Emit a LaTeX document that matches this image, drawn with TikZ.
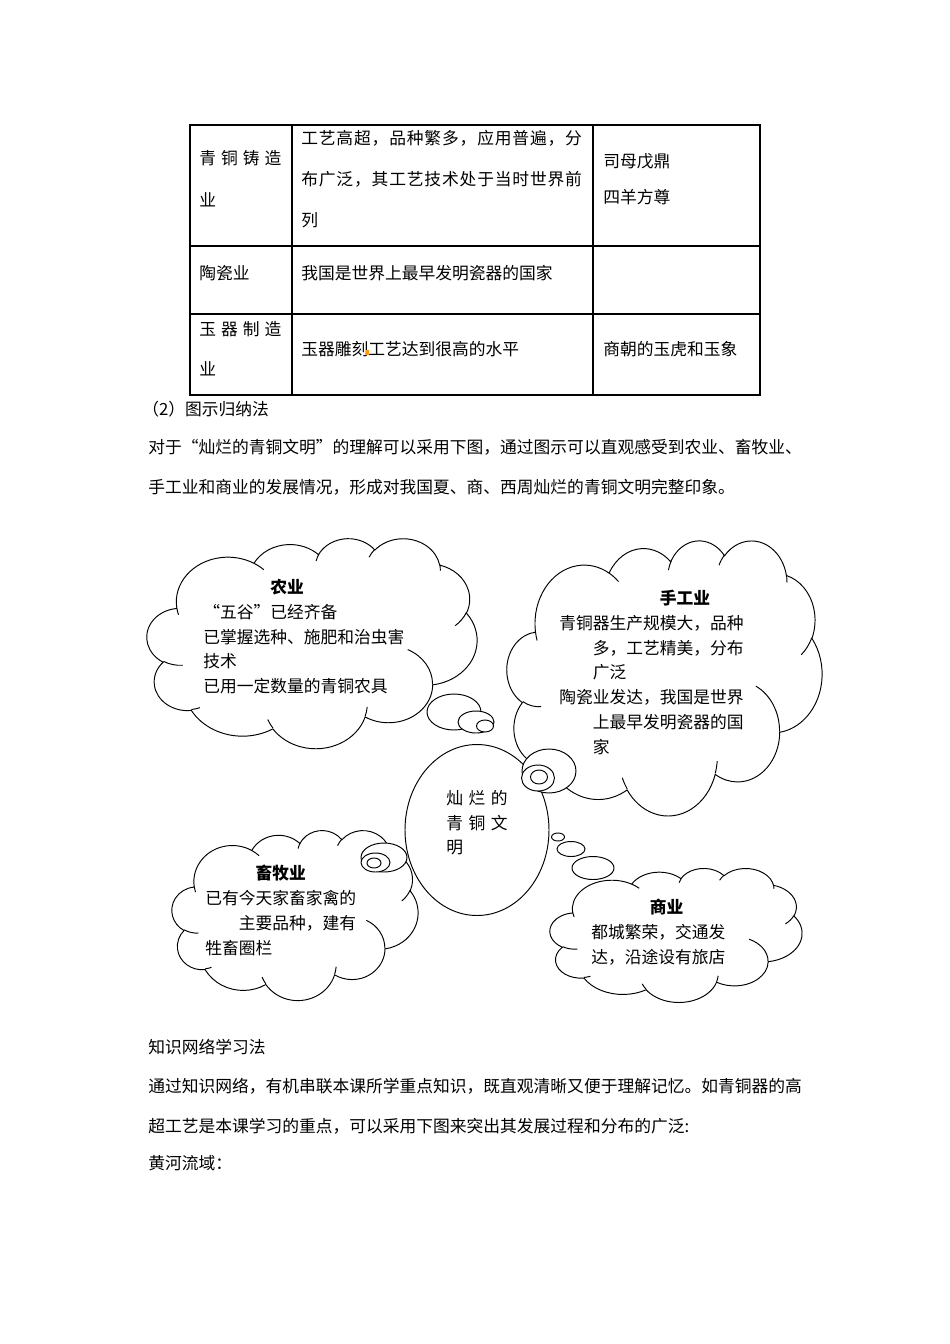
\documentclass[tikz,border=0pt]{standalone}
\usepackage{fontspec}
\setmainfont{Noto Sans CJK SC}
\newcommand\ooarc[4]{arc[x radius=#1,y radius=#2,
    start angle={atan2(#1*sin(#3),#2*cos(#3))},
    delta angle={mod(atan2(#1*sin(#3+#4),#2*cos(#3+#4))-atan2(#1*sin(#3),#2*cos(#3))+720,360)}]}
\begin{document}
\begin{tikzpicture}[x=0.6266pt,y=-0.6266pt,
    every node/.style={inner sep=0pt,anchor=north west,align=left,font=\fontsize{10.5}{25}\selectfont},
    puffed/.style={font=\fontsize{10.5}{15.5}\selectfont},
    rim/.style={line width=0.6pt,fill=white}]
    \useasboundingbox (0,0) rectangle (950,1344);
    \draw[line width=1pt] (190,125) rectangle (760,395);
    \draw[line width=1pt] (292,125) -- (292,395) (593,125) -- (593,395)
        (190,246) -- (760,246) (190,314) -- (760,314);
    \node[font=\fontsize{10.5}{26.3}\selectfont] (bronzename) at (199,150)
        {\hbox to 51.4pt{青\hfil 铜\hfil 铸\hfil 造}\\业};
    \node[font=\fontsize{10.5}{25.7}\selectfont\addfontfeature{LetterSpace=5}] (bronzetext) at (301,130)
        {工艺高超，品种繁多，应用普遍，分\\布广泛，其工艺技术处于当时世界前\\列};
    \node[font=\fontsize{10.5}{22.6}\selectfont] (bronzeitems) at (603,153) {司母戊鼎\\四羊方尊};
    \node (potname) at (199,265) {陶瓷业};
    \node (pottext) at (301,265) {我国是世界上最早发明瓷器的国家};
    \node (jadename) at (199,321) {\hbox to 51.4pt{玉\hfil 器\hfil 制\hfil 造}\\业};
    \node (jadetext) at (301,341) {玉器雕刻工艺达到很高的水平};
    \node (jadeitems) at (603,341) {商朝的玉虎和玉象};
    \fill[orange!80!yellow] (366,350) rectangle (368.5,355);
    \node (method) at (142,401) {（2）图示归纳法};
    \node (intro) at (148,439)
        {对于“灿烂的青铜文明”的理解可以采用下图，通过图示可以直观感受到农业、畜牧业、\\
         手工业和商业的发展情况，形成对我国夏、商、西周灿烂的青铜文明完整印象。};
    \foreach \cx/\cy/\cw/\ch in {147/538/330/210,507/540/315/275,172/830/246/170,550/868/252/134} {
        \begin{scope}[shift={(\cx,\cy)},x={(\cw/432,0)},y={(0,\ch/432)}]
            \draw[rim] (39.00,143.70) \ooarc{67.53}{91.90}{-190.4875}{123.7805}
                \ooarc{53.33}{72.67}{-144.1024}{89.9452} \ooarc{43.65}{59.45}{-145.8079}{99.7230}
                \ooarc{48.57}{65.95}{-130.9861}{117.2417} \ooarc{53.33}{72.73}{-78.7089}{109.0269}
                \ooarc{67.75}{92.20}{-46.2673}{130.2690} \ooarc{57.85}{78.67}{0.6250}{114.0333}
                \ooarc{67.52}{92.15}{22.4516}{115.1726} \ooarc{77.20}{105.43}{66.2426}{75.7110}
                \ooarc{43.60}{59.18}{-274.9421}{146.7356} \ooarc{43.45}{59.45}{-246.8285}{152.5189} -- cycle;
            \draw[line width=0.6pt]
                (46.93,261.77) \ooarc{43.45}{59.45}{86.7420}{26.4295}
                (69.28,348.99) \ooarc{43.60}{59.18}{73.6105}{11.4475}
                (164.78,390.90) \ooarc{67.52}{92.15}{137.6242}{14.0811}
                (288.27,347.51) \ooarc{67.52}{92.15}{6.4533}{15.9984}
                (341.29,229.54) \ooarc{57.85}{78.67}{-70.2924}{70.9174}
                (417.98,153.54) \ooarc{53.33}{72.73}{30.3180}{27.7515}
                (383.24,54.26) \ooarc{48.57}{65.95}{-13.7443}{14.8589}
                (290.78,39.52) \ooarc{48.57}{65.95}{-149.1815}{18.1954}
                (221.41,47.20) \ooarc{43.65}{59.45}{-163.4943}{17.6864}
                (140.00,51.92) \ooarc{67.53}{91.90}{-66.7070}{12.3194}
                (41.27,157.89) \ooarc{67.53}{91.90}{157.6544}{11.8582};
        \end{scope}
    }
    \draw[rim] (477,830) ellipse [x radius=72,y radius=85.5];
    \draw[rim] (454,712) ellipse [x radius=27,y radius=18];
    \draw[rim] (476,722) ellipse [x radius=18,y radius=11];
    \draw[rim] (485,726) ellipse [x radius=8.5,y radius=6];
    \draw[rim] (549,771) ellipse [x radius=27,y radius=22];
    \draw[rim] (538,778) ellipse [x radius=16.5,y radius=13];
    \draw[rim] (539,777) ellipse [x radius=8.5,y radius=7];
    \draw[rim] (384,857.5) ellipse [x radius=23,y radius=14.5];
    \draw[rim] (375.5,862.5) ellipse [x radius=14.5,y radius=9.5];
    \draw[rim] (374,863) ellipse [x radius=7,y radius=5];
    \draw[rim] (558,837) ellipse [x radius=6.5,y radius=4];
    \draw[rim] (571,849) ellipse [x radius=14,y radius=7.5];
    \draw[rim] (593,868) ellipse [x radius=21,y radius=11.5];
    \node[puffed] (farming) at (203,579)
        {\hspace*{4em}\textbf{农业}\\“五谷”已经齐备\\已掌握选种、施肥和治虫害\\技术\\已用一定数量的青铜农具};
    \node[puffed] (crafts) at (559,590)
        {\hspace*{6em}\textbf{手工业}\\青铜器生产规模大，品种\\\hspace*{2em}多，工艺精美，分布\\\hspace*{2em}广泛\\
         陶瓷业发达，我国是世界\\\hspace*{2em}上最早发明瓷器的国\\\hspace*{2em}家};
    \node[puffed] (herding) at (205,865)
        {\hspace*{3em}\textbf{畜牧业}\\已有今天家畜家禽的\\\hspace*{2em}主要品种，建有\\牲畜圈栏};
    \node[puffed] (trade) at (591,899)
        {\hspace*{3.5em}\textbf{商业}\\都城繁荣，交通发\\达，沿途设有旅店};
    \node[font=\fontsize{10.5}{15.4}\selectfont\addfontfeature{LetterSpace=33}] (core) at (446,790)
        {灿烂的\\青铜文\\明};
    \node (network) at (148,1039) {知识网络学习法};
    \node (networktext) at (148,1078)
        {通过知识网络，有机串联本课所学重点知识，既直观清晰又便于理解记忆。如青铜器的高\\
         超工艺是本课学习的重点，可以采用下图来突出其发展过程和分布的广泛:};
    \node (river) at (148,1155) {黄河流域：};
\end{tikzpicture}
\end{document}
